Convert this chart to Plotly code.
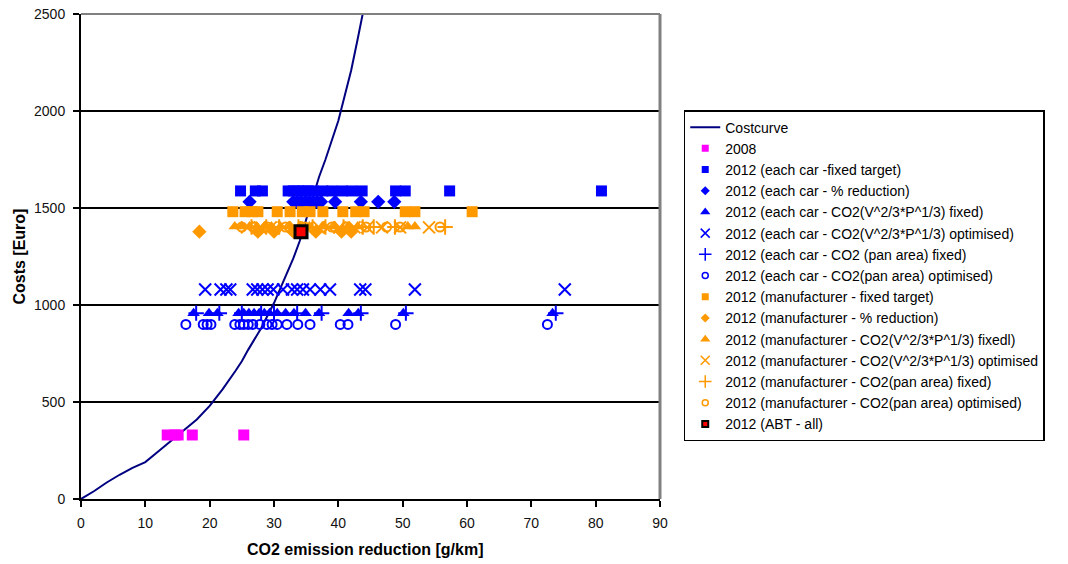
import plotly.graph_objects as go

# Cost curve (CO2 reduction in g/km vs. cost in Euro)
curve_x = [0, 2, 4, 6, 8, 10, 12, 14, 16, 18, 20, 21, 22, 24, 25, 26, 28, 30,
           32, 33, 34, 35, 36, 37, 38, 39, 40, 41, 42, 43, 44, 45]
curve_y = [0, 40, 85, 125, 160, 190, 245, 300, 355, 410, 480, 520, 565, 660, 710,
           770, 880, 1010, 1160, 1240, 1330, 1440, 1560, 1660, 1750, 1850, 1950,
           2080, 2210, 2370, 2530, 2700]

# 2008
y2008_x = [13.4, 14.6, 15.1, 17.3, 25.3]
y2008_y = [330, 330, 330, 330, 330]

# 2012, each car
car_fixed_x = [24.8, 27.1, 28.2, 32.2, 33.0, 33.8, 34.5, 35.3, 36.1, 37.6, 39.0,
               40.6, 42.1, 43.7, 48.9, 50.4, 57.3, 80.9]
car_fixed_y = [1588, 1588, 1588, 1588, 1588, 1588, 1588, 1588, 1588,
               1588, 1588, 1588, 1588, 1588, 1588, 1588, 1588, 1588]

car_pct_x = [26.2, 33.0, 33.6, 34.2, 34.9, 35.5, 36.1, 36.7, 37.3, 39.5, 43.5,
             46.2, 48.7]
car_pct_y = [1532, 1532, 1532, 1532, 1532, 1532, 1532, 1532, 1532, 1532, 1532,
             1532, 1532]

car_vp_fixed_x = [17.5, 19.9, 21.2, 24.5, 25.3, 26.1, 26.9, 27.7, 28.5, 29.3,
                  30.5, 31.8, 33.1, 34.9, 37.0, 41.6, 43.1, 50.1, 73.3]
car_vp_fixed_y = [958, 958, 958, 958, 958, 958, 958, 958, 958, 958, 958, 958,
                  958, 958, 958, 958, 958, 958, 958]

car_vp_opt_x = [19.3, 21.7, 22.6, 23.2, 26.7, 27.4, 28.2, 29.0, 29.9, 31.4, 32.8,
                33.6, 34.5, 35.6, 37.2, 38.7, 43.4, 44.2, 51.9, 75.2]
car_vp_opt_y = [1080, 1080, 1080, 1080, 1080, 1080, 1080, 1080, 1080, 1080,
                1080, 1080, 1080, 1080, 1080, 1080, 1080, 1080, 1080, 1080]

car_pan_fixed_x = [17.9, 21.5, 25.0, 28.0, 30.0, 33.6, 37.4, 43.5, 50.5, 73.8]
car_pan_fixed_y = [958, 958, 958, 958, 958, 958, 958, 958, 958, 958]

car_pan_opt_x = [16.3, 19.0, 19.6, 20.2, 23.9, 24.7, 25.3, 26.0, 26.7, 27.8,
                 28.9, 29.7, 30.5, 32.0, 33.7, 35.6, 40.3, 41.5, 48.9, 72.5]
car_pan_opt_y = [900, 900, 900, 900, 900, 900, 900, 900, 900, 900, 900, 900,
                 900, 900, 900, 900, 900, 900, 900, 900]

# 2012, manufacturer
man_fixed_x = [23.6, 25.5, 26.6, 27.5, 30.5, 32.5, 34.4, 35.6, 37.6, 40.7, 42.7,
               44.0, 50.4, 51.9, 60.8]
man_fixed_y = [1481, 1481, 1481, 1481, 1481, 1481, 1481, 1481, 1481, 1481, 1481,
               1481, 1481, 1481, 1481]

man_pct_x = [18.4, 27.5, 30.0, 33.0, 36.5, 40.5, 42.0]
man_pct_y = [1378, 1378, 1378, 1378, 1378, 1378, 1378]

man_vp_fixed_x = [23.9, 25.0, 26.2, 27.3, 28.5, 29.6, 31.0, 32.5, 34.0, 35.5,
                  37.5, 39.5, 41.5, 43.0, 50.8, 51.9]
man_vp_fixed_y = [1404, 1404, 1404, 1404, 1404, 1404, 1404, 1404, 1404, 1404,
                  1404, 1404, 1404, 1404, 1404, 1404]

man_vp_opt_x = [25.8, 27.8, 29.5, 31.5, 33.3, 35.2, 37.0, 38.5, 40.2, 42.5, 44.5,
                46.8, 49.6, 54.1]
man_vp_opt_y = [1400, 1400, 1400, 1400, 1400, 1400, 1400, 1400, 1400, 1400, 1400,
                1400, 1400, 1400]

man_pan_fixed_x = [26.5, 28.8, 30.8, 33.8, 36.0, 38.0, 40.8, 43.8, 45.5, 48.8, 56.6]
man_pan_fixed_y = [1402, 1402, 1402, 1402, 1402, 1402, 1402, 1402, 1402, 1402, 1402]

man_pan_opt_x = [25.0, 27.0, 29.0, 31.8, 34.8, 39.0, 41.2, 44.3, 47.5, 49.6, 55.8]
man_pan_opt_y = [1402, 1402, 1402, 1402, 1402, 1402, 1402, 1402, 1402, 1402, 1402]

# 2012, ABT
abt_x = [34.2]
abt_y = [1378]

x_ticks = [0, 10, 20, 30, 40, 50, 60, 70, 80, 90]
y_ticks = [0, 500, 1000, 1500, 2000, 2500]

BLUE = "#0000FF"
ORANGE = "#FF9900"
MAGENTA = "#FF00FF"
FONT = "Arial, Liberation Sans, sans-serif"

fig = go.Figure()

fig.add_trace(go.Scatter(x=curve_x, y=curve_y, mode="lines", name="Costcurve",
                         line=dict(color="#000080", width=2)))


def marker_style(symbol, color, size, filled, lw):
    if filled:
        return dict(symbol=symbol, color=color, size=size,
                    line=dict(color=color, width=0))
    return dict(symbol=symbol, color=color, size=size,
                line=dict(color=color, width=lw))


def add_points(x, y, name, symbol, color, size, filled=True, lw=2, key_size=7):
    # points on the chart
    fig.add_trace(go.Scatter(x=x, y=y, mode="markers", name=name, showlegend=False,
                             marker=marker_style(symbol, color, size, filled, lw)))
    # smaller key symbol in the legend
    fig.add_trace(go.Scatter(x=[None], y=[None], mode="markers", name=name,
                             marker=marker_style(symbol, color, key_size, filled,
                                                 1.5 if not filled else 0)))


add_points(y2008_x, y2008_y, "2008", "square", MAGENTA, 11)
add_points(car_fixed_x, car_fixed_y, "2012 (each car -fixed target)", "square", BLUE, 11)
add_points(car_pct_x, car_pct_y, "2012 (each car - % reduction)", "diamond", BLUE, 11)
add_points(car_vp_fixed_x, car_vp_fixed_y, "2012 (each car - CO2(V^2/3*P^1/3) fixed)",
           "triangle-up", BLUE, 11, key_size=9)
add_points(car_vp_opt_x, car_vp_opt_y, "2012 (each car - CO2(V^2/3*P^1/3) optimised)",
           "x-thin-open", BLUE, 12, filled=False, key_size=9)
add_points(car_pan_fixed_x, car_pan_fixed_y, "2012 (each car - CO2 (pan area) fixed)",
           "cross-thin-open", BLUE, 11, filled=False, key_size=9)
add_points(car_pan_opt_x, car_pan_opt_y, "2012 (each car - CO2(pan area) optimised)",
           "circle-open", BLUE, 9, filled=False, key_size=6)
add_points(man_fixed_x, man_fixed_y, "2012 (manufacturer - fixed target)", "square", ORANGE, 11)
add_points(man_pct_x, man_pct_y, "2012 (manufacturer - % reduction)", "diamond", ORANGE, 11)
add_points(man_vp_fixed_x, man_vp_fixed_y, "2012 (manufacturer - CO2(V^2/3*P^1/3) fixedl)",
           "triangle-up", ORANGE, 11, key_size=9)
add_points(man_vp_opt_x, man_vp_opt_y, "2012 (manufacturer - CO2(V^2/3*P^1/3) optimised",
           "x-thin-open", ORANGE, 12, filled=False, key_size=9)
add_points(man_pan_fixed_x, man_pan_fixed_y, "2012 (manufacturer - CO2(pan area) fixed)",
           "cross-thin-open", ORANGE, 11, filled=False, key_size=9)
add_points(man_pan_opt_x, man_pan_opt_y, "2012 (manufacturer - CO2(pan area) optimised)",
           "circle-open", ORANGE, 9, filled=False, key_size=6)

fig.add_trace(go.Scatter(x=abt_x, y=abt_y, mode="markers", name="2012 (ABT - all)",
                         showlegend=False,
                         marker=dict(symbol="square", color="#FF0000", size=12,
                                     line=dict(color="#000000", width=3))))
fig.add_trace(go.Scatter(x=[None], y=[None], mode="markers", name="2012 (ABT - all)",
                         marker=dict(symbol="square", color="#FF0000", size=6,
                                     line=dict(color="#000000", width=2))))

fig.update_layout(
    width=1068, height=564,
    margin=dict(l=81, r=408, t=14, b=65, autoexpand=False),
    paper_bgcolor="white", plot_bgcolor="white",
    font=dict(family=FONT, size=14, color="#000000"),
    showlegend=True,
    legend=dict(x=1.041, y=0.802, xanchor="left", yanchor="top",
                bordercolor="#000000", borderwidth=1.5, bgcolor="white",
                font=dict(family=FONT, size=14, color="#000000"),
                tracegroupgap=0),
    xaxis=dict(range=[0, 90], tickvals=x_ticks, ticktext=[str(v) for v in x_ticks],
               showgrid=False, zeroline=False, showline=True, linecolor="#000000",
               linewidth=2, ticks="outside", ticklen=6, tickwidth=1.5,
               tickcolor="#000000", tickfont=dict(size=14, color="#111111"),
               ticklabelstandoff=4, automargin=False),
    yaxis=dict(range=[0, 2500], tickvals=y_ticks, ticktext=[str(v) for v in y_ticks],
               showgrid=True, gridcolor="#000000", gridwidth=1.5, zeroline=False,
               showline=True, linecolor="#000000", linewidth=2, ticks="outside",
               ticklen=6, tickwidth=1.5, tickcolor="#000000",
               tickfont=dict(size=14, color="#111111"), ticklabelstandoff=5,
               automargin=False),
    shapes=[
        dict(type="line", xref="paper", yref="paper", x0=0, x1=1, y0=1, y1=1,
             line=dict(color="#808080", width=2), layer="above"),
        dict(type="line", xref="paper", yref="paper", x0=1, x1=1, y0=0, y1=1,
             line=dict(color="#808080", width=3), layer="above"),
    ],
    annotations=[
        dict(text="<b>Costs [Euro]</b>", xref="paper", yref="paper", x=-0.107, y=0.5,
             textangle=-90, showarrow=False, font=dict(size=16, color="#000000"),
             xanchor="center", yanchor="middle"),
        dict(text="<b>CO2 emission reduction [g/km]</b>", xref="paper", yref="paper",
             x=0.49, y=-0.105, showarrow=False, font=dict(size=16, color="#000000"),
             xanchor="center", yanchor="middle"),
    ],
)

fig.write_html("out.html")
